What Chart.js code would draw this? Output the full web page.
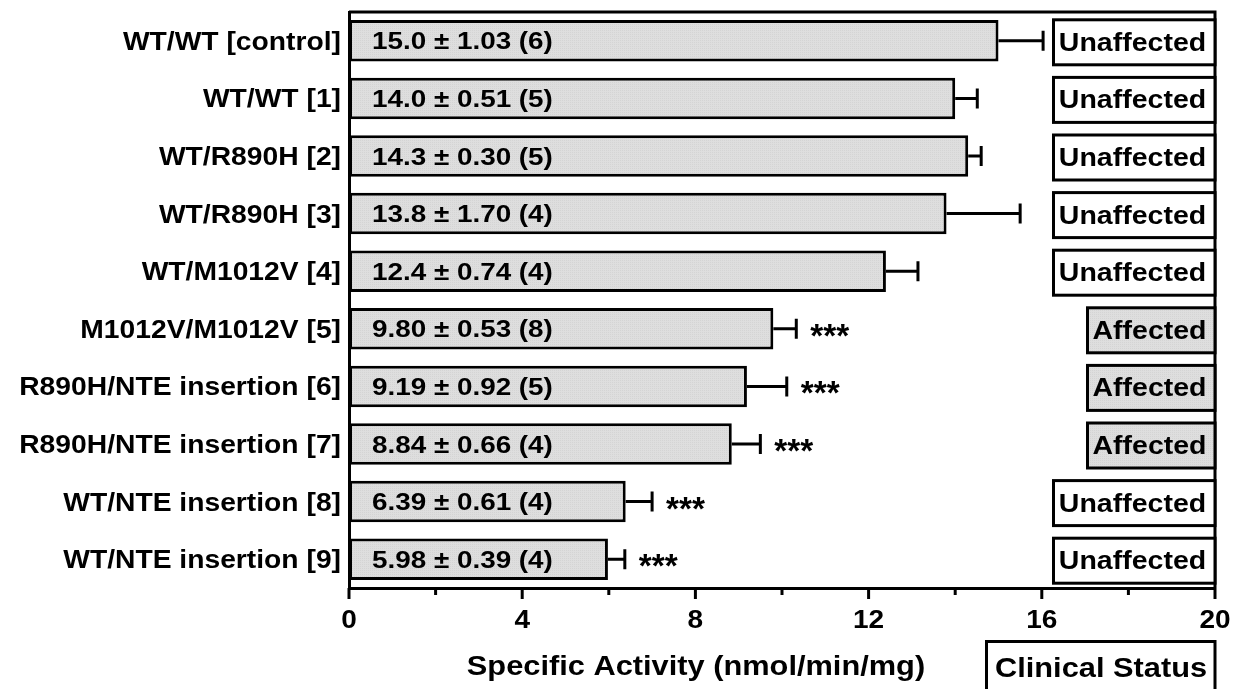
<!DOCTYPE html>
<html>
<head>
<meta charset="utf-8">
<title>Specific Activity</title>
<script src="https://cdn.jsdelivr.net/npm/chart.js@4.4.1/dist/chart.umd.min.js"></script>
<style>
    html, body { margin: 0; padding: 0; background: #fff; }
    #wrap { width: 1243px; height: 689px; }
</style>
</head>
<body>
<div id="wrap"><canvas id="activityChart" width="1243" height="689"></canvas></div>
<script>
const genotypes = [
    'WT/WT [control]', 'WT/WT [1]', 'WT/R890H [2]', 'WT/R890H [3]', 'WT/M1012V [4]',
    'M1012V/M1012V [5]', 'R890H/NTE insertion [6]', 'R890H/NTE insertion [7]',
    'WT/NTE insertion [8]', 'WT/NTE insertion [9]'
];
const activity = [15.0, 14.0, 14.3, 13.8, 12.4, 9.80, 9.19, 8.84, 6.39, 5.98];
const sem = [1.03, 0.51, 0.30, 1.70, 0.74, 0.53, 0.92, 0.66, 0.61, 0.39];
const nSamples = [6, 5, 5, 4, 4, 8, 5, 4, 4, 4];
const significance = ['', '', '', '', '', '***', '***', '***', '***', '***'];
const clinicalStatus = [
    'Unaffected', 'Unaffected', 'Unaffected', 'Unaffected', 'Unaffected',
    'Affected', 'Affected', 'Affected', 'Unaffected', 'Unaffected'
];
const xMin = 0, xMax = 20, xStep = 2;
const xLabelEvery = 4;

const FONT = '"Liberation Sans", Arial, sans-serif';

const canvas = document.getElementById('activityChart');
const ctx = canvas.getContext('2d');

// light stippled gray fill
const pc = document.createElement('canvas');
pc.width = 2; pc.height = 2;
const pctx = pc.getContext('2d');
pctx.fillStyle = '#dedede';
pctx.fillRect(0, 0, 2, 2);
pctx.fillStyle = '#d4d4d4';
pctx.fillRect(0, 0, 1, 1);
const stipple = ctx.createPattern(pc, 'repeat');

// text in the figure is a bit wider than plain Arial, so stretch it
function wideText(c, text, x, y, align, size, sx) {
    c.save();
    c.font = 'bold ' + size + 'px ' + FONT;
    c.textAlign = align;
    c.textBaseline = 'alphabetic';
    c.translate(x, y);
    c.scale(sx || 1.14, 1);
    c.fillText(text, 0, 0);
    c.restore();
}

const decorations = {
    id: 'decorations',
    afterDatasetsDraw(chart) {
        const c = chart.ctx;
        const area = chart.chartArea;
        const xs = chart.scales.x;
        const ys = chart.scales.y;
        c.save();
        c.strokeStyle = '#000';
        c.fillStyle = '#000';
        c.lineWidth = 3;
        c.lineCap = 'butt';

        // top and right frame
        c.beginPath();
        c.moveTo(area.left, area.top);
        c.lineTo(area.right, area.top);
        c.lineTo(area.right, area.bottom);
        c.stroke();

        // x ticks: long at labelled values, short in between
        xs.ticks.forEach(t => {
            const px = xs.getPixelForValue(t.value);
            const major = t.value % xLabelEvery === 0;
            c.beginPath();
            c.moveTo(px, area.bottom);
            c.lineTo(px, area.bottom + (major ? 11 : 7));
            c.stroke();
            if (major) wideText(c, String(t.value), px, 628, 'center', 25, 1.12);
        });

        genotypes.forEach((g, i) => {
            const cy = ys.getPixelForValue(i);
            const x0 = xs.getPixelForValue(activity[i]);
            const x1 = xs.getPixelForValue(activity[i] + sem[i]);

            // error bar (upper side only)
            c.beginPath();
            c.moveTo(x0, cy);
            c.lineTo(x1, cy);
            c.moveTo(x1, cy - 10);
            c.lineTo(x1, cy + 10);
            c.stroke();

            // category label
            wideText(c, g, 341, cy + 9, 'right', 25, 1.13);

            // value text inside bar
            const txt = activity[i].toPrecision(3) + ' \u00B1 ' + sem[i].toFixed(2) + ' (' + nSamples[i] + ')';
            wideText(c, txt, xs.getPixelForValue(0) + 23, cy + 8.5, 'left', 24, 1.16);

            // significance stars
            if (significance[i]) wideText(c, significance[i], x1 + 14, cy + 18, 'left', 34, 0.98);

            // clinical status box
            const affected = clinicalStatus[i] === 'Affected';
            const bw = affected ? 129 : 163;
            const bx = area.right - bw;
            const by = cy - 21;
            const bh = 45;
            c.fillStyle = affected ? stipple : '#fff';
            c.fillRect(bx, by, bw, bh);
            c.strokeRect(bx + 1.5, by, bw - 1.5, bh);
            c.fillStyle = '#000';
            wideText(c, clinicalStatus[i], bx + bw / 2 - 1, cy + 10, 'center', 25, 1.14);
        });

        // axis title and clinical status header
        wideText(c, 'Specific Activity (nmol/min/mg)', 696, 675, 'center', 27);
        c.strokeRect(986.5, 641.5, area.right - 986.5, 60);
        wideText(c, 'Clinical Status', 1101, 677, 'center', 27);
        c.restore();
    }
};

new Chart(ctx, {
    type: 'bar',
    data: {
        labels: genotypes,
        datasets: [{
            label: 'Specific Activity',
            data: activity,
            backgroundColor: stipple,
            borderColor: '#000',
            borderWidth: 3,
            borderSkipped: false,
            barPercentage: 0.72,
            categoryPercentage: 1.0
        }]
    },
    options: {
        indexAxis: 'y',
        responsive: false,
        animation: false,
        devicePixelRatio: 1,
        layout: { padding: { top: 12, right: 28, left: 0, bottom: 0 } },
        plugins: {
            legend: { display: false },
            tooltip: { enabled: false }
        },
        scales: {
            x: {
                min: xMin,
                max: xMax,
                ticks: { stepSize: xStep, display: false },
                grid: { display: false },
                border: { display: true, color: '#000', width: 3 },
                afterFit: s => { s.height = 101; }
            },
            y: {
                ticks: { display: false },
                grid: { display: false },
                border: { display: true, color: '#000', width: 3 },
                afterFit: s => { s.width = 349; }
            }
        }
    },
    plugins: [decorations]
});
</script>
</body>
</html>
